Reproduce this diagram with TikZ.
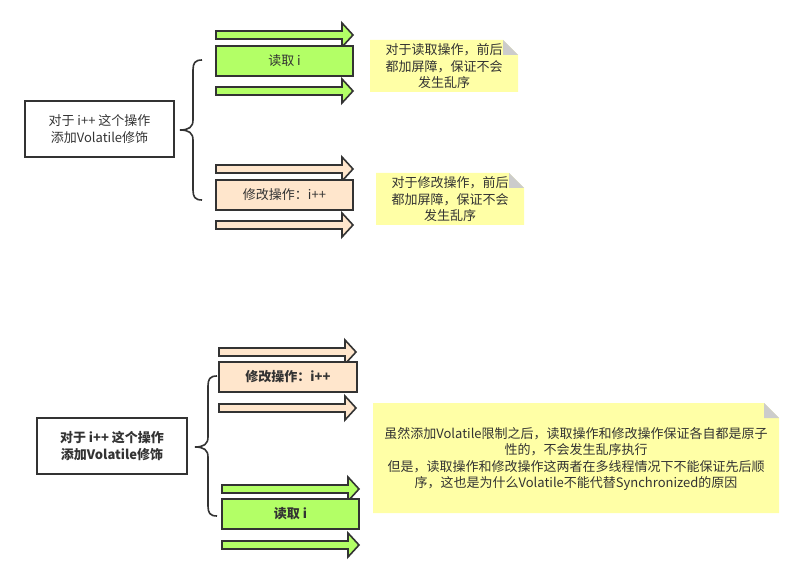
\documentclass[tikz,border=0pt]{standalone}
\usepackage{fontspec}
\setmainfont{Noto Sans CJK SC}
\definecolor{stroke}{HTML}{333333}
\definecolor{greenf}{HTML}{B3FF66}
\definecolor{peachf}{HTML}{FFE6CC}
\definecolor{notef}{HTML}{FFFFA6}
\definecolor{foldf}{HTML}{CCCCCC}
\newcommand\fatarrow[4]{% x0 x1 yc fill
  \draw[arrowshape,fill=#4] (#1,#3-4) -- (#2-11,#3-4) -- (#2-11,#3-12) -- (#2,#3) -- (#2-11,#3+12) -- (#2-11,#3+4) -- (#1,#3+4) -- cycle;}
\newcommand\notebox[4]{% x0 y0 x1 y1
  \fill[notef] (#1,#2) -- (#3-15,#2) -- (#3,#2+15) -- (#3,#4) -- (#1,#4) -- cycle;
  \fill[foldf] (#3-15,#2) -- (#3,#2+15) -- (#3-15,#2+15) -- cycle;}
\tikzset{
  arrowshape/.style={draw=stroke,line width=1.6pt,line join=miter},
  box/.style={draw=stroke,line width=1.6pt,text=stroke,font=\fontsize{13}{16.5}\selectfont,align=center,inner sep=0pt},
  notetext/.style={text=stroke,font=\fontsize{13}{16.5}\selectfont,align=center,inner sep=0pt},
  bracepath/.style={draw=stroke,line width=1.6pt},
}
\begin{document}
\begin{tikzpicture}[x=1pt,y=-1pt]
\useasboundingbox (0,0) rectangle (804,580);
% ---------- top section ----------
\node[box,minimum width=149pt,minimum height=56pt] (lefttop) at (99.5,129) {对于 i++ 这个操作\\添加Volatile修饰};
\coordinate (bt1) at (202,60);
\coordinate (bt2) at (202,200);
\coordinate (btip) at (180,130);
\draw[bracepath] (bt1) .. controls (195,60) and (193,63) .. (193,70) -- (193,120) .. controls (193,127) and (189,130) .. (btip) .. controls (189,130) and (193,133) .. (193,140) -- (193,190) .. controls (193,197) and (195,200) .. (bt2);
\fatarrow{216}{353}{35}{greenf}
\fatarrow{216}{353}{91}{greenf}
\node[box,fill=greenf,minimum width=137pt,minimum height=30pt] (readtop) at (284.5,61) {读取 i};
\fatarrow{216}{353}{169}{peachf}
\fatarrow{216}{353}{225}{peachf}
\node[box,fill=peachf,minimum width=137pt,minimum height=30pt] (modtop) at (284.5,195) {修改操作：i++};
\notebox{370}{40}{518}{92}
\node[notetext] (note1) at (444,66.5) {对于读取操作，前后\\都加屏障，保证不会\\发生乱序};
\notebox{376}{173}{524}{225}
\node[notetext] (note2) at (450,199.5) {对于修改操作，前后\\都加屏障，保证不会\\发生乱序};
% ---------- bottom section ----------
\node[box,font=\fontsize{13}{16.5}\selectfont\bfseries,minimum width=150pt,minimum height=56pt] (leftbot) at (112,446) {对于 i++ 这个操作\\添加Volatile修饰};
\coordinate (bb1) at (217,376);
\coordinate (bb2) at (217,516);
\coordinate (bbtip) at (195,447);
\draw[bracepath] (bb1) .. controls (210,376) and (208,379) .. (208,386) -- (208,437) .. controls (208,444) and (204,447) .. (bbtip) .. controls (204,447) and (208,450) .. (208,457) -- (208,506) .. controls (208,513) and (210,516) .. (bb2);
\fatarrow{219}{356}{352}{peachf}
\fatarrow{219}{356}{408}{peachf}
\node[box,fill=peachf,font=\fontsize{13}{16.5}\selectfont\bfseries,minimum width=138pt,minimum height=30pt] (modbot) at (288,377) {修改操作：i++};
\fatarrow{222}{359}{489}{greenf}
\fatarrow{222}{359}{545}{greenf}
\node[box,fill=greenf,font=\fontsize{13}{16.5}\selectfont\bfseries,minimum width=137pt,minimum height=30pt] (readbot) at (290.5,514) {读取 i};
\notebox{373}{403}{779}{513}
\node[notetext] (note3) at (576,459) {虽然添加Volatile限制之后，读取操作和修改操作保证各自都是原子\\性的，不会发生乱序执行\\但是，读取操作和修改操作这两者在多线程情况下不能保证先后顺\\序，这也是为什么Volatile不能代替Synchronized的原因};
\end{tikzpicture}
\end{document}
